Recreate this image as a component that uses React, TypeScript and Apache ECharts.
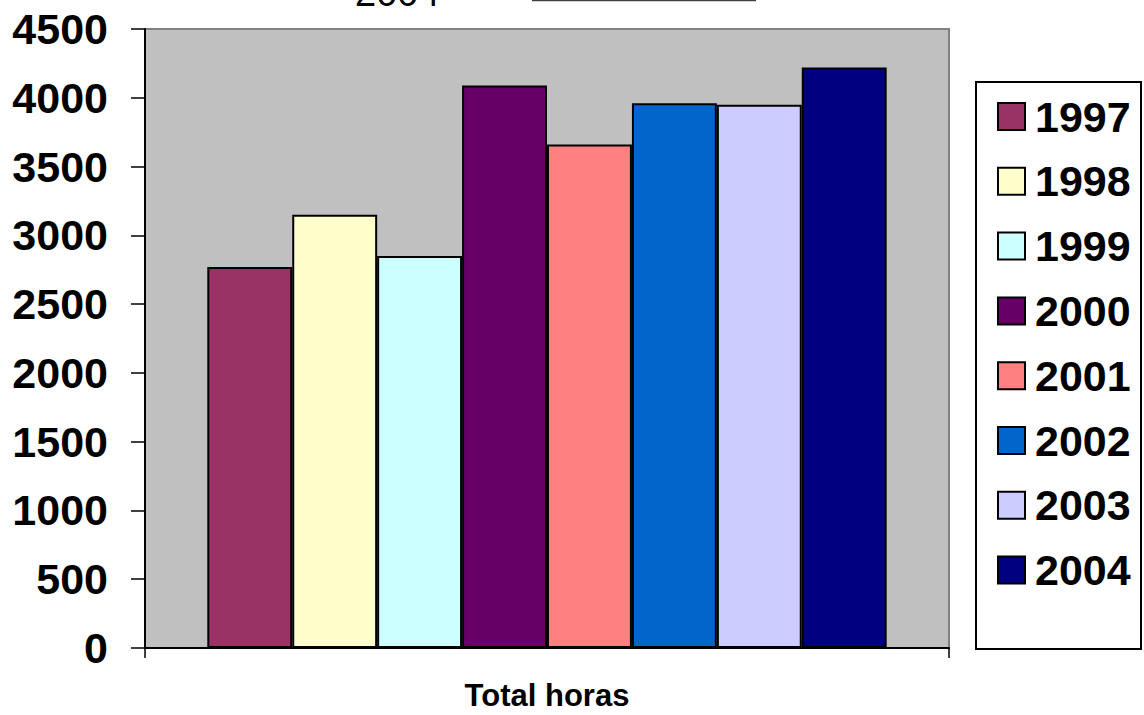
import React, { useEffect, useRef } from "react";
import * as echarts from "echarts";

const categories = ["Total horas"];
const years = ["1997", "1998", "1999", "2000", "2001", "2002", "2003", "2004"];
const values = [2770, 3150, 2850, 4090, 3660, 3960, 3950, 4220];
const colors = ["#993366", "#FFFFCC", "#CCFFFF", "#660066", "#FF8080", "#0066CC", "#CCCCFF", "#000080"];
const yTicks = { min: 0, max: 4500, interval: 500 };

const FONT = "'Liberation Sans', Arial, sans-serif";

export default function App() {
  const ref = useRef<HTMLDivElement>(null);
  useEffect(() => {
    document.body.style.margin = "0";
    const chart = echarts.init(ref.current!, null, { renderer: "svg" });
    chart.setOption({
      animation: false,
      backgroundColor: "#FFFFFF",
      grid: {
        left: 145,
        right: 195,
        top: 29,
        bottom: 67,
        show: true,
        backgroundColor: "#C0C0C0",
        borderColor: "#808080",
        borderWidth: 2,
      },
      legend: {
        orient: "vertical",
        left: 997,
        top: 95,
        itemWidth: 27,
        itemHeight: 27,
        itemGap: 21.8,
        icon: "rect",
        padding: 0,
        textStyle: {
          fontFamily: FONT,
          fontWeight: "bold",
          fontSize: 43,
          color: "#000",
          padding: [0, 0, 0, 5],
        },
        data: years,
      },
      xAxis: {
        type: "category",
        data: categories,
        axisLine: { lineStyle: { color: "#000", width: 2 } },
        axisTick: { show: true, length: 10, lineStyle: { color: "#000", width: 1.5 } },
        axisLabel: {
          margin: 32,
          fontFamily: FONT,
          fontWeight: "bold",
          fontSize: 31,
          color: "#000",
        },
      },
      yAxis: {
        type: "value",
        min: yTicks.min,
        max: yTicks.max,
        interval: yTicks.interval,
        splitLine: { show: false },
        axisLine: { show: true, lineStyle: { color: "#000", width: 2 } },
        axisTick: { show: true, length: 14, lineStyle: { color: "#000", width: 1.5 } },
        axisLabel: {
          margin: 37,
          fontFamily: FONT,
          fontWeight: "bold",
          fontSize: 43,
          color: "#000",
          formatter: (v: number) => String(v),
        },
      },
      series: years.map((y, i) => ({
        name: y,
        type: "bar",
        data: [values[i]],
        barGap: "0%",
        barCategoryGap: "15.5%",
        itemStyle: { color: colors[i], borderColor: "#000", borderWidth: 2 },
      })),
      graphic: [
        {
          type: "rect",
          shape: { x: 976, y: 82, width: 165, height: 567 },
          style: { fill: "none", stroke: "#000", lineWidth: 2 },
          z: 10,
        },
        {
          type: "text",
          x: 355,
          y: 12,
          style: {
            text: "2004",
            fontFamily: FONT,
            fontSize: 38,
            fontWeight: "normal",
            fill: "#000",
            verticalAlign: "bottom",
          },
        },
        {
          type: "line",
          shape: { x1: 532, y1: 0.5, x2: 756, y2: 0.5 },
          style: { stroke: "#404040", lineWidth: 1.5 },
        },
      ],
    });
    return () => chart.dispose();
  }, []);
  return <div ref={ref} style={{ width: 1144, height: 715 }} />;
}
